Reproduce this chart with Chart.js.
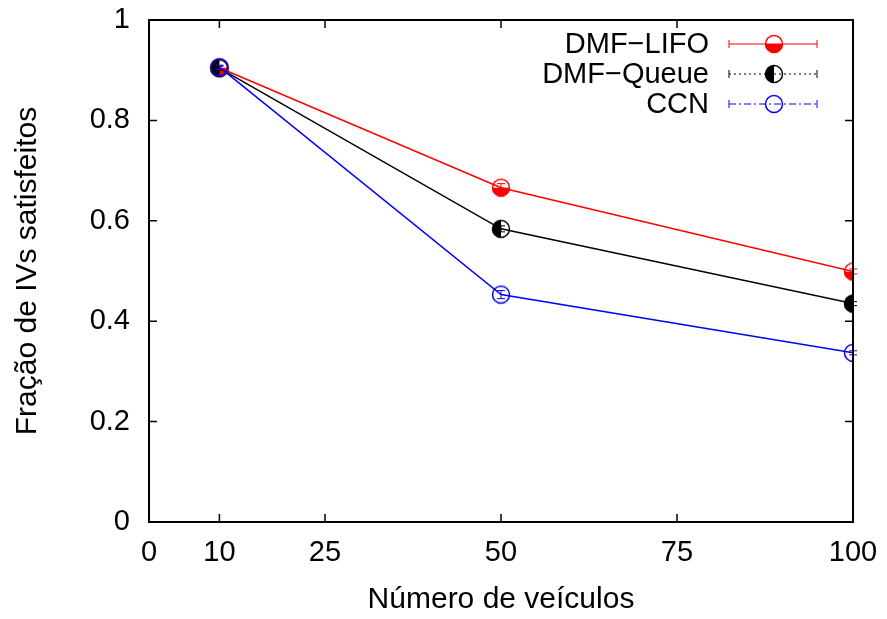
<!DOCTYPE html>
<html lang="pt">
<head>
  <meta charset="UTF-8">
  <title>Fração de IVs satisfeitos</title>
  <script src="https://cdn.jsdelivr.net/npm/chart.js"></script>
  <style>
    body { margin: 0; background: #fff; }
    #chartContainer { width: 887px; height: 619px; }
  </style>
</head>
<body>

<div id="chartContainer">
  <canvas id="ivsChart" width="887" height="619"></canvas>
</div>

<script>
// dados
const veiculos = [10, 50, 100];
const xTicks = [0, 10, 25, 50, 75, 100];
const lifo = [0.905, 0.666, 0.499];
const lifoErr = [0.004, 0.008, 0.005];
const queue = [0.904, 0.584, 0.435];
const queueErr = [0.004, 0.006, 0.004];
const ccn = [0.906, 0.453, 0.337];
const ccnErr = [0.004, 0.008, 0.004];
const nomes = ['DMF\u2212LIFO', 'DMF\u2212Queue', 'CCN'];

const FONT = "'Liberation Sans', Arial, sans-serif";
const FS = 29;

function marcador(cor, tipo) {
  const c = document.createElement('canvas');
  c.width = 22; c.height = 22;
  const g = c.getContext('2d');
  const r = 8.5;
  g.fillStyle = cor;
  if (tipo === 'baixo') {
    g.beginPath(); g.arc(11, 11, r, 0, Math.PI); g.closePath(); g.fill();
  } else if (tipo === 'esq') {
    g.beginPath(); g.arc(11, 11, r, Math.PI / 2, Math.PI * 1.5); g.closePath(); g.fill();
  }
  g.strokeStyle = cor; g.lineWidth = 1.5;
  g.beginPath(); g.arc(11, 11, r, 0, Math.PI * 2); g.stroke();
  return c;
}

const estilos = [
  { cor: '#ff0000', img: marcador('#ff0000', 'baixo'), dash: [] },
  { cor: '#000000', img: marcador('#000000', 'esq'), dash: [2, 3] },
  { cor: '#0000ff', img: marcador('#0000ff', 'aberto'), dash: [7, 3, 2, 3] }
];
const series = [lifo, queue, ccn];
const erros = [lifoErr, queueErr, ccnErr];

// moldura, marcas para dentro, barras de erro e legenda estilo gnuplot
const gnuplotExtras = {
  id: 'gnuplotExtras',
  afterDatasetsDraw(chart) {
    const { ctx, chartArea: a, scales: { x, y } } = chart;
    ctx.save();
    // barras de erro
    series.forEach((s, i) => {
      ctx.strokeStyle = estilos[i].cor; ctx.lineWidth = 1;
      s.forEach((v, j) => {
        const px = x.getPixelForValue(veiculos[j]);
        const y1 = y.getPixelForValue(v - erros[i][j]);
        const y2 = y.getPixelForValue(v + erros[i][j]);
        ctx.beginPath();
        ctx.moveTo(px, y1); ctx.lineTo(px, y2);
        ctx.moveTo(px - 4, y1); ctx.lineTo(px + 4, y1);
        ctx.moveTo(px - 4, y2); ctx.lineTo(px + 4, y2);
        ctx.stroke();
      });
    });
    // moldura
    ctx.strokeStyle = '#000'; ctx.lineWidth = 2;
    ctx.strokeRect(a.left, a.top, a.right - a.left, a.bottom - a.top);
    ctx.lineWidth = 1.5;
    ctx.beginPath();
    xTicks.forEach(v => {
      const px = x.getPixelForValue(v);
      ctx.moveTo(px, a.bottom); ctx.lineTo(px, a.bottom - 8);
      ctx.moveTo(px, a.top); ctx.lineTo(px, a.top + 8);
    });
    y.ticks.forEach(t => {
      const py = y.getPixelForValue(t.value);
      ctx.moveTo(a.left, py); ctx.lineTo(a.left + 8, py);
      ctx.moveTo(a.right, py); ctx.lineTo(a.right - 8, py);
    });
    ctx.stroke();
    // legenda
    ctx.font = FS + 'px ' + FONT;
    ctx.textAlign = 'right'; ctx.textBaseline = 'middle';
    nomes.forEach((n, i) => {
      const ly = 44 + i * 30;
      const e = estilos[i];
      ctx.fillStyle = '#000';
      ctx.fillText(n, 709, ly + 1);
      ctx.strokeStyle = e.cor; ctx.lineWidth = 1;
      ctx.setLineDash(e.dash);
      ctx.beginPath(); ctx.moveTo(729, ly); ctx.lineTo(817, ly); ctx.stroke();
      ctx.setLineDash([]);
      ctx.beginPath();
      ctx.moveTo(729, ly - 4); ctx.lineTo(729, ly + 4);
      ctx.moveTo(817, ly - 4); ctx.lineTo(817, ly + 4);
      ctx.stroke();
      ctx.drawImage(e.img, 774 - 11, ly - 11);
    });
    ctx.restore();
  }
};

const ctx = document.getElementById('ivsChart').getContext('2d');
new Chart(ctx, {
  type: 'line',
  data: {
    datasets: series.map((s, i) => ({
      label: nomes[i],
      data: s.map((v, j) => ({ x: veiculos[j], y: v })),
      borderColor: estilos[i].cor,
      borderWidth: 1.5,
      pointStyle: estilos[i].img,
      pointRadius: 10,
      tension: 0,
      fill: false
    })).reverse()
  },
  options: {
    responsive: false,
    animation: false,
    layout: { padding: { left: 0, right: 34, top: 20, bottom: 0 } },
    plugins: { legend: { display: false }, tooltip: { enabled: false } },
    scales: {
      x: {
        type: 'linear', min: 0, max: 100,
        afterBuildTicks: s => { s.ticks = xTicks.map(v => ({ value: v })); },
        afterFit: s => { s.height = 97; s.paddingLeft = 0; s.paddingRight = 0; },
        grid: { display: false, drawTicks: false }, border: { display: false },
        ticks: { color: '#000', font: { family: FONT, size: FS }, padding: 14, maxRotation: 0, autoSkip: false },
        title: { display: true, text: 'Número de veículos', color: '#000', font: { family: FONT, size: 30 }, padding: { top: 0, bottom: 1 } }
      },
      y: {
        min: 0, max: 1,
        afterFit: s => { s.width = 149; s.paddingTop = 0; s.paddingBottom = 0; },
        grid: { display: false, drawTicks: false }, border: { display: false },
        ticks: {
          stepSize: 0.2, color: '#000', font: { family: FONT, size: FS }, padding: 19,
          callback: v => (v === 0 || v === 1) ? String(v) : v.toFixed(1)
        },
        title: { display: true, text: 'Fração de IVs satisfeitos', color: '#000', font: { family: FONT, size: 30 }, padding: { top: 10, bottom: 0 } }
      }
    }
  },
  plugins: [gnuplotExtras]
});
</script>

</body>
</html>
